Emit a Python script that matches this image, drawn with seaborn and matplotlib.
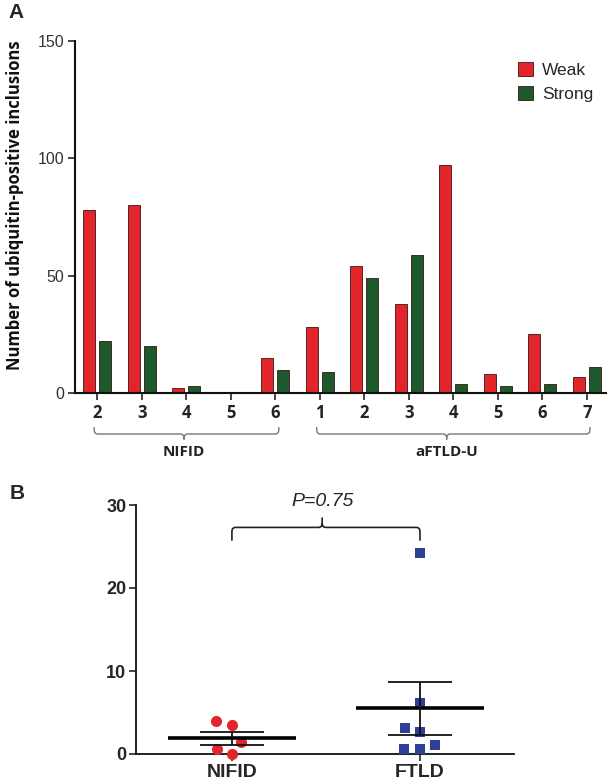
import numpy as np
import pandas as pd
import matplotlib
matplotlib.use('Agg')
import matplotlib.pyplot as plt
from matplotlib.path import Path
from matplotlib.patches import PathPatch
import matplotlib.transforms as mtransforms
import seaborn as sns

# panel A data
case_labels = ['2', '3', '4', '5', '6', '1', '2', '3', '4', '5', '6', '7']
case_groups = ['NIFID'] * 5 + ['aFTLD-U'] * 7
weak = [78, 80, 2, 0, 15, 28, 54, 38, 97, 8, 25, 7]
strong = [22, 20, 3, 0, 10, 9, 49, 59, 4, 3, 4, 11]

# panel B data
nifid_vals = [4.0, 3.5, 1.5, 0.6, 0.0]
ftld_vals = [24.2, 6.2, 3.1, 2.6, 1.1, 0.6, 0.6]
p_text = 'P=0.75'

red = '#e2242b'
green = '#1c5a2b'
blue = '#2e3f98'

sns.set_style('white')
plt.rcParams['font.family'] = ['Liberation Sans', 'DejaVu Sans']

W, H = 608, 784
fig = plt.figure(figsize=(W / 100, H / 100), dpi=100)
fy = lambda y: 1 - y / H


def px_axes(left, top, right, bottom):
    return fig.add_axes([left / W, 1 - bottom / H, (right - left) / W, (bottom - top) / H])


def brace(ax, x0, x1, xm, y_end, y_bar, y_tip, rx, ry, transform, **kw):
    s = np.sign(y_tip - y_bar)
    verts = [(x0, y_end), (x0, y_bar - s * ry), (x0, y_bar), (x0 + rx, y_bar),
             (xm - rx, y_bar), (xm, y_bar), (xm, y_bar + s * ry), (xm, y_tip),
             (xm, y_bar + s * ry), (xm, y_bar), (xm + rx, y_bar),
             (x1 - rx, y_bar), (x1, y_bar), (x1, y_bar - s * ry), (x1, y_end)]
    codes = [Path.MOVETO, Path.LINETO, Path.CURVE3, Path.CURVE3,
             Path.LINETO, Path.CURVE3, Path.CURVE3, Path.LINETO,
             Path.MOVETO, Path.CURVE3, Path.CURVE3,
             Path.LINETO, Path.CURVE3, Path.CURVE3, Path.LINETO]
    ax.add_patch(PathPatch(Path(verts, codes), fill=False, transform=transform,
                           clip_on=False, **kw))


# ---------------- panel A ----------------
axA = px_axes(75, 41, 606, 393)
case_keys = [f'{g} {c}' for g, c in zip(case_groups, case_labels)]
dfA = pd.DataFrame({
    'case': case_keys * 2,
    'level': ['Weak'] * len(weak) + ['Strong'] * len(strong),
    'count': weak + strong,
})
sns.barplot(data=dfA, x='case', y='count', hue='level', order=case_keys,
            hue_order=['Weak', 'Strong'], palette=[red, green],
            width=0.72, gap=0.25, edgecolor='#3b1515', linewidth=0.6,
            saturation=1, ax=axA)

axA.set_ylim(0, 150)
axA.set_xlim(-0.5, 11.43)
axA.set_yticks([0, 50, 100, 150])
axA.set_xticks(range(len(case_labels)))
axA.set_xticklabels(case_labels, fontsize=12, fontweight='bold',
                    family=['Open Sans', 'DejaVu Sans'], color='#222222')
axA.tick_params(axis='y', labelsize=11.5, labelcolor='#333333', length=5, width=1.2,
                direction='out', left=True, pad=3)
axA.tick_params(axis='x', length=5, width=1.2, direction='out', bottom=True, pad=3)
for sp in ['top', 'right']:
    axA.spines[sp].set_visible(False)
for sp in ['left', 'bottom']:
    axA.spines[sp].set_linewidth(1.5)
    axA.spines[sp].set_color('#111111')
axA.set_xlabel('')
axA.set_ylabel('')
fig.text(15 / W, fy(205), 'Number of ubiquitin-positive inclusions', rotation=90,
         ha='center', va='center', fontsize=12, fontweight='bold',
         family=['Open Sans', 'DejaVu Sans'], color='#111111')

leg = axA.legend(loc='upper left', bbox_to_anchor=(0.834, 0.94), frameon=False,
                 fontsize=12.5, handlelength=0.85, handleheight=0.85,
                 handletextpad=0.55, labelspacing=0.45, borderpad=0,
                 borderaxespad=0)

# group braces under panel A
trA = mtransforms.blended_transform_factory(axA.transData, fig.transFigure)
brace(axA, -0.07, 4.08, 1.95, fy(427), fy(434), fy(440), 0.08, 0.006, trA,
      color='#777777', lw=1.0)
brace(axA, 4.93, 11.07, 7.85, fy(427), fy(434), fy(440), 0.08, 0.006, trA,
      color='#777777', lw=1.0)
for xm, name in [(1.95, 'NIFID'), (7.85, 'aFTLD-U')]:
    axA.text(xm, fy(452), name, transform=trA, ha='center', va='center',
             fontsize=11, fontweight='bold', family=['Open Sans', 'DejaVu Sans'],
             color='#222222')

fig.text(8 / W, fy(13), 'A', fontsize=15, fontweight='bold', va='center', ha='left')

# ---------------- panel B ----------------
axB = px_axes(136, 505, 514, 754)
groups = ['NIFID', 'FTLD']
dfB = pd.DataFrame({
    'group': ['NIFID'] * len(nifid_vals) + ['FTLD'] * len(ftld_vals),
    'value': nifid_vals + ftld_vals,
})
# lay the swarm out with roomy spacing, then shrink the markers
swarms = []
for g, col, mk, ms in [('NIFID', red, 'o', 8.0), ('FTLD', blue, 's', 7.4)]:
    n0 = len(axB.collections)
    sns.swarmplot(data=dfB[dfB.group == g], x='group', y='value', order=groups,
                  color=col, marker=mk, size=11, linewidth=0, ax=axB, zorder=3)
    swarms += [(c, ms) for c in axB.collections[n0:]]

axB.set_ylim(0, 30)
axB.set_xlim(-0.51, 1.5)
fig.canvas.draw()
for coll, ms in swarms:
    if 'draw' in coll.__dict__:
        del coll.draw
    coll.set_sizes([ms ** 2])
    coll.set_clip_on(False)

stats = dfB.groupby('group')['value'].agg(['mean', 'sem']).reindex(groups)
for i, g in enumerate(groups):
    m, se = stats.loc[g, 'mean'], stats.loc[g, 'sem']
    axB.hlines(m, i - 0.34, i + 0.34, color='black', lw=2.6, zorder=4)
    axB.errorbar(i, m, yerr=se, color='#111111', lw=1.3, capsize=23,
                 capthick=1.3, zorder=4)

axB.set_ylim(0, 30)
axB.set_xlim(-0.51, 1.5)
axB.set_yticks([0, 10, 20, 30])
axB.set_xlabel('')
axB.set_ylabel('')
axB.tick_params(axis='y', labelsize=13, length=5, width=1.2, direction='out',
                left=True, pad=2)
axB.tick_params(axis='x', labelsize=14, length=5, width=1.2, direction='out',
                bottom=True, pad=2)
for lab in axB.get_xticklabels() + axB.get_yticklabels():
    lab.set_fontweight('bold')
for sp in ['top', 'right']:
    axB.spines[sp].set_visible(False)
for sp in ['left', 'bottom']:
    axB.spines[sp].set_linewidth(1.3)
    axB.spines[sp].set_color('#111111')

brace(axB, 0.0, 1.0, 0.48, 25.7, 27.3, 28.5, 0.02, 0.5, axB.transData,
      color='#222222', lw=1.2)
axB.text(0.48, 30.4, p_text, ha='center', va='center', fontsize=14,
         style='italic', clip_on=False)

fig.text(10 / W, fy(494), 'B', fontsize=15, fontweight='bold', va='center', ha='left')

fig.savefig('out.png', dpi=100)
